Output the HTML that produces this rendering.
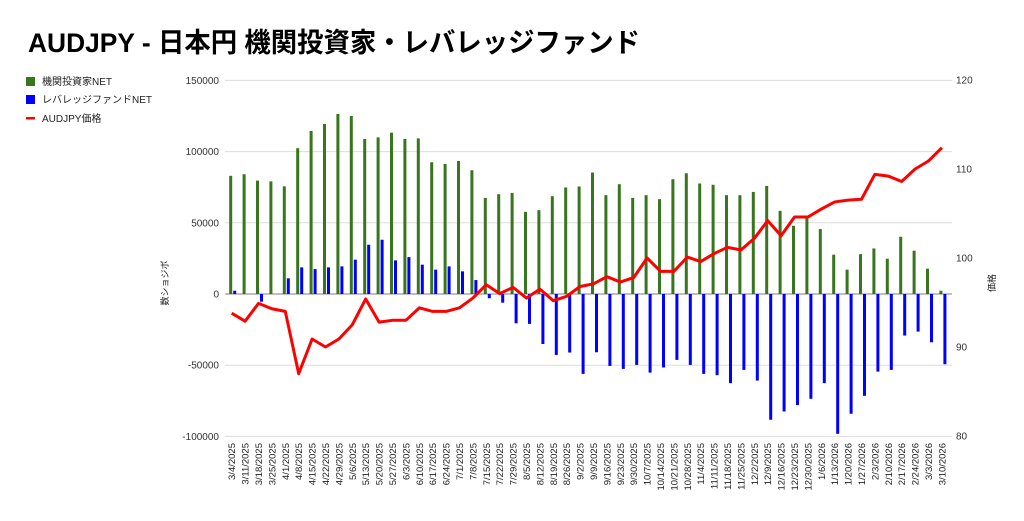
<!DOCTYPE html>
<html><head><meta charset="utf-8">
<style>
body{margin:0;background:#fff;width:1024px;height:516px;overflow:hidden;font-family:"Liberation Sans","Noto Sans CJK JP",sans-serif;}
svg text{font-family:"Liberation Sans","Noto Sans CJK JP",sans-serif;}
</style></head>
<body>
<svg id="chart" width="1024" height="516" xmlns="http://www.w3.org/2000/svg">
<text x="28" y="52" font-size="27" font-weight="bold" fill="#000" textLength="612" lengthAdjust="spacingAndGlyphs">AUDJPY - 日本円 機関投資家・レバレッジファンド</text>
<g>
<rect x="26" y="77" width="9" height="9" fill="#38761d"/>
<text x="42" y="85" font-size="10" fill="#222">機関投資家NET</text>
<rect x="26" y="95" width="9" height="9" fill="#0000ff"/>
<text x="42" y="103" font-size="10" fill="#222">レバレッジファンドNET</text>
<rect x="26" y="117" width="9" height="2.5" fill="#ff0000"/>
<text x="42" y="122" font-size="10" fill="#222">AUDJPY価格</text>
</g>
<text transform="translate(168,283) rotate(-90)" text-anchor="middle" font-size="9" fill="#222">数ショジボ</text>
<text transform="translate(995,283) rotate(-90)" text-anchor="middle" font-size="9" fill="#222">価格</text>
<g id="grid"></g><g id="bars"></g><g id="line"></g><g id="labels"></g>
</svg>
<script>
const categories=["3/4/2025","3/11/2025","3/18/2025","3/25/2025","4/1/2025","4/8/2025","4/15/2025","4/22/2025","4/29/2025","5/6/2025","5/13/2025","5/20/2025","5/27/2025","6/3/2025","6/10/2025","6/17/2025","6/24/2025","7/1/2025","7/8/2025","7/15/2025","7/22/2025","7/29/2025","8/5/2025","8/12/2025","8/19/2025","8/26/2025","9/2/2025","9/9/2025","9/16/2025","9/23/2025","9/30/2025","10/7/2025","10/14/2025","10/21/2025","10/28/2025","11/4/2025","11/11/2025","11/18/2025","11/25/2025","12/2/2025","12/9/2025","12/16/2025","12/23/2025","12/30/2025","1/6/2026","1/13/2026","1/20/2026","1/27/2026","2/3/2026","2/10/2026","2/17/2026","2/24/2026","3/3/2026","3/10/2026"];
const institutional=[83000,84100,79600,79100,75600,102400,114500,119400,126400,125000,108900,110000,113300,108900,109300,92500,91300,93400,86900,67500,70100,71000,57700,58900,68700,74800,75500,85300,69400,77100,67500,69400,66600,80600,84800,77600,76700,69400,69400,71700,75900,58400,47900,53000,45600,27600,17100,28000,32000,24800,40200,30400,17800,2300];
const leveraged=[2300,0,-5400,0,11000,18700,17500,18700,19400,24100,34600,38100,23600,25900,20600,17100,19400,15900,9800,-3000,-6100,-20600,-21000,-35100,-42800,-41100,-56100,-40900,-50500,-52600,-49800,-55200,-51600,-46300,-49800,-56100,-57000,-62600,-53300,-60800,-88300,-82500,-78000,-73600,-62600,-98200,-84100,-71500,-54500,-53300,-29200,-26400,-33900,-49300];
const price=[93.8,92.9,94.9,94.3,94.0,87.0,90.9,90.0,90.9,92.5,95.4,92.8,93.0,93.0,94.4,94.0,94.0,94.4,95.5,97.0,96.0,96.7,95.5,96.5,95.2,95.7,96.8,97.1,97.9,97.3,97.8,100.0,98.5,98.5,100.1,99.6,100.5,101.2,100.9,102.2,104.2,102.5,104.6,104.6,105.5,106.3,106.5,106.6,109.4,109.2,108.6,110.0,110.9,112.4];
const leftTicks=[150000,100000,50000,0,-50000,-100000];
const rightTicks=[120,110,100,90,80];

const NS="http://www.w3.org/2000/svg";
const X0=225,X1=952,YT=80,YB=436;
const yL=v=>294-(v/50000)*71.2;
const yR=v=>YB-(v-80)/40*(YB-YT);
const xC=i=>231.7+i*13.4;
function mk(tag,attrs,parent){const e=document.createElementNS(NS,tag);for(const k in attrs)e.setAttribute(k,attrs[k]);document.getElementById(parent).appendChild(e);return e;}

leftTicks.forEach(t=>{
  const g=mk('line',{x1:X0,x2:X1,y1:yL(t),y2:yL(t),stroke:t===0?'#999':'#ddd','stroke-width':t===0?1.2:1},'grid');
  
  
  const l=mk('text',{x:219,y:yL(t)+3.5,'text-anchor':'end','font-size':10,fill:'#333'},'labels');
  l.textContent=t;
  
  
});
rightTicks.forEach(t=>{
  const l=mk('text',{x:956,y:yR(t)+3.5,'font-size':10,fill:'#333'},'labels');
  l.textContent=t;
  
  
});
categories.forEach((c,i)=>{
  const l=mk('text',{transform:`translate(${xC(i)+3.5},443) rotate(-90)`,'text-anchor':'end','font-size':9.5,fill:'#222'},'labels');
  l.textContent=c;
  
  
  const gv=institutional[i],bv=leveraged[i];
  const g=mk('rect',{x:xC(i)-2.5,width:3,y:Math.min(yL(gv),yL(0)),height:Math.abs(yL(gv)-yL(0)),fill:'#38761d'},'bars');
  
  
  const b=mk('rect',{x:xC(i)+1.5,width:3,y:Math.min(yL(bv),yL(0)),height:Math.abs(yL(bv)-yL(0)),fill:'#0000ff'},'bars');
  
  
});
const pts=price.map((v,i)=>xC(i)+','+yR(v)).join(' ');
const pl=mk('polyline',{points:pts,fill:'none',stroke:'#ff0000','stroke-width':3,'stroke-linejoin':'round'},'line');


</script>
</body></html>
